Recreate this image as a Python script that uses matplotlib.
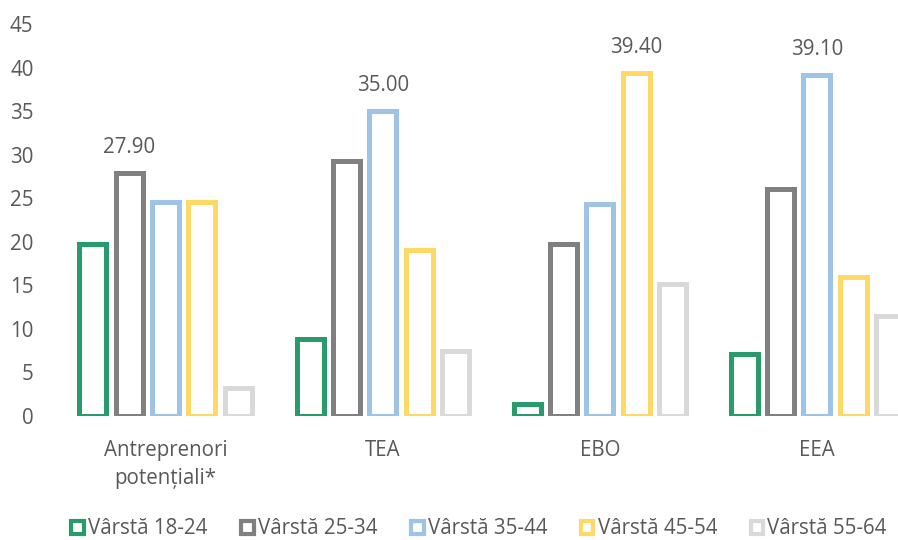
import matplotlib
matplotlib.use("Agg")
import matplotlib.pyplot as plt
from matplotlib.patches import Patch
import numpy as np

plt.rcParams['font.family'] = ['Open Sans', 'DejaVu Sans']

categories = ["Antreprenori\npotențiali*", "TEA", "EBO", "EEA"]
series_names = ["Vârstă 18-24", "Vârstă 25-34", "Vârstă 35-44", "Vârstă 45-54", "Vârstă 55-64"]
v18_24 = [19.7, 8.8, 1.4, 7.1]
v25_34 = [27.9, 29.3, 19.7, 26.1]
v35_44 = [24.6, 35.0, 24.3, 39.1]
v45_54 = [24.6, 19.1, 39.4, 15.9]
v55_64 = [3.2, 7.5, 15.2, 11.5]
series_values = [v18_24, v25_34, v35_44, v45_54, v55_64]
colors = ["#279B6B", "#808080", "#9DC3E6", "#FFD966", "#D9D9D9"]
yticks = [0, 5, 10, 15, 20, 25, 30, 35, 40, 45]

W, H = 898, 540
fig = plt.figure(figsize=(W / 100, H / 100), dpi=100)
ax_left, ax_right = 57, 925.5
ax_top, ax_bottom = 24, 416
ax = fig.add_axes([ax_left / W, (H - ax_bottom) / H, (ax_right - ax_left) / W, (ax_bottom - ax_top) / H])

x = np.arange(len(categories))
step = 0.1673
bw = 0.1244
text_col = "#595959"
fs = 14.8

for j, (name, vals, c) in enumerate(zip(series_names, series_values, colors)):
    ax.bar(x + (j - 2) * step, vals, width=bw, facecolor="white", edgecolor=c,
           linewidth=3.6, label=name, zorder=2)

# data labels: maximum of each group
for i in range(len(categories)):
    grp = [s[i] for s in series_values]
    j = int(np.argmax(grp))
    ax.annotate(f"{grp[j]:.2f}", xy=(x[i] + (j - 2) * step, grp[j]), xytext=(0, 18.5),
                textcoords="offset points", ha="center", va="center",
                fontsize=fs, color=text_col)

ax.set_xlim(-0.5, len(categories) - 0.5)
ax.set_ylim(0, 45)
ax.set_yticks(yticks)
ax.set_xticks(x)
ax.set_xticklabels(categories, fontsize=fs, color=text_col, linespacing=1.45)
ax.tick_params(axis="x", length=0, pad=17)
ax.tick_params(axis="y", length=0, pad=17, labelsize=fs, labelcolor=text_col)
for s in ax.spines.values():
    s.set_visible(False)

handles = [Patch(facecolor="white", edgecolor=c, linewidth=3.0, label=n) for n, c in zip(series_names, colors)]
fig.legend(handles=handles, loc="center", bbox_to_anchor=(479 / W, (H - 529) / H), ncol=5,
           frameon=False, fontsize=fs, labelcolor=text_col, handlelength=0.62, handleheight=0.62,
           handletextpad=0.2, columnspacing=1.63, borderpad=0.0)

fig.savefig("out.png", dpi=100)
